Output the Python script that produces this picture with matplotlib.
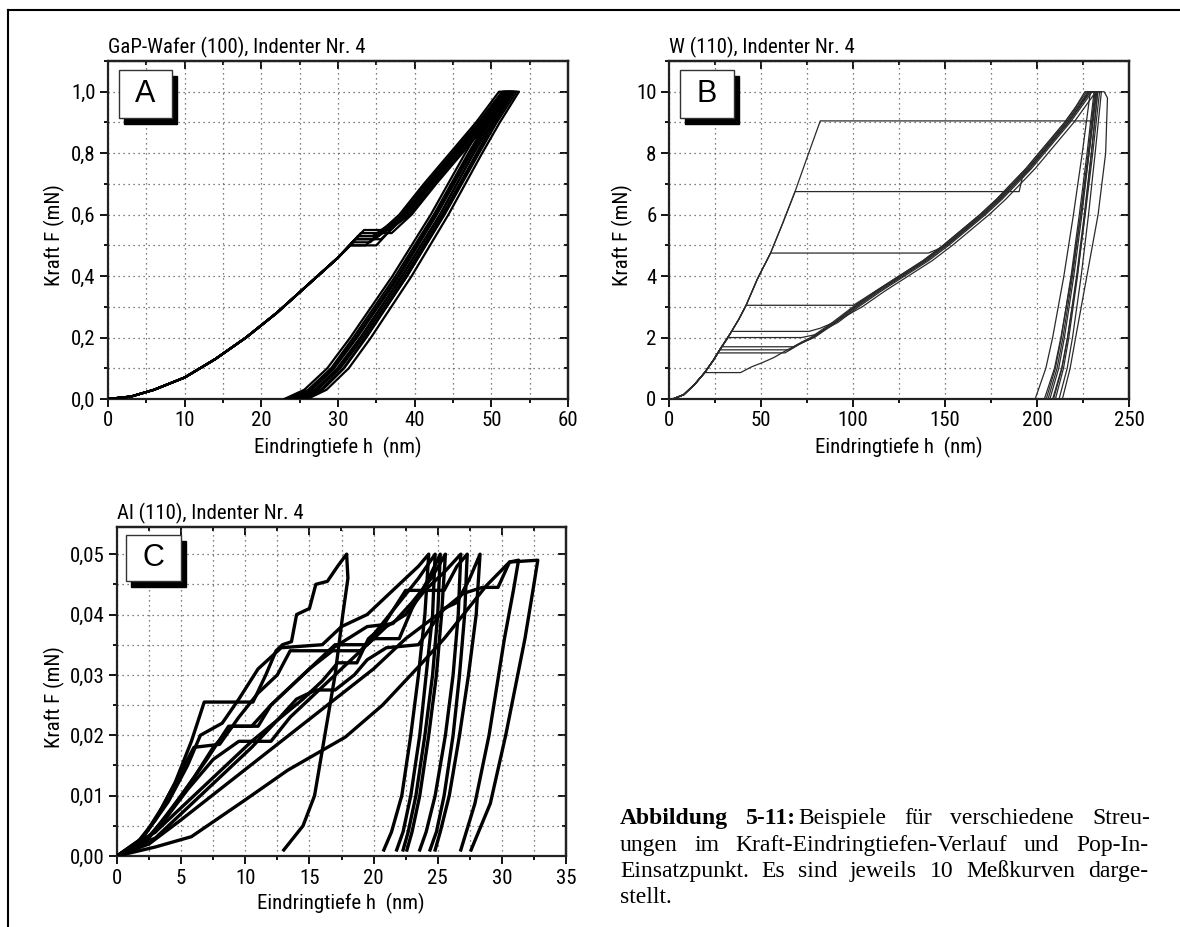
import matplotlib
matplotlib.use("Agg")
import matplotlib.pyplot as plt
from matplotlib.ticker import MultipleLocator, FuncFormatter
from matplotlib.patches import Rectangle
from matplotlib.lines import Line2D

# ---- panel A: GaP-Wafer (100) ----
A_PRE_H = [0, 3, 6, 10, 14, 18, 22, 26, 30]
A_PRE_F = [0, 0.008, 0.03, 0.07, 0.13, 0.2, 0.28, 0.37, 0.46]
A_POP_F = [0.50, 0.51, 0.52, 0.53, 0.54, 0.55, 0.52, 0.53, 0.50, 0.54]
A_POP_START = [31.6, 32.0, 32.3, 32.7, 33.0, 33.4, 32.3, 32.6, 31.6, 33.0]
A_POP_END = [33.6, 34.2, 34.8, 35.3, 35.9, 36.6, 35.6, 34.5, 35.0, 37.0]
A_UPPER_F = [0.6, 0.7, 0.8, 0.9, 1.0, 1.0]
A_UPPER_H = [
    [38.0, 41.2, 44.6, 48.0, 51.0, 51.6],
    [38.3, 41.5, 44.9, 48.3, 51.4, 52.0],
    [38.6, 41.8, 45.2, 48.6, 51.7, 52.4],
    [38.8, 42.0, 45.4, 48.8, 52.0, 52.7],
    [39.1, 42.3, 45.7, 49.1, 52.3, 53.0],
    [39.4, 42.6, 46.0, 49.4, 52.6, 53.3],
    [39.0, 42.2, 45.6, 49.0, 52.2, 52.9],
    [38.5, 41.7, 45.1, 48.5, 51.6, 52.2],
    [38.7, 41.9, 45.3, 48.7, 51.8, 52.6],
    [39.6, 42.8, 46.2, 49.6, 52.8, 53.6],
]
A_UNLOAD_F = [1.0, 0.9, 0.8, 0.6, 0.4, 0.2, 0.1, 0.03, 0.0]
A_UNLOAD_H = [
    [51.6, 49.0, 46.6, 42.1, 37.1, 31.6, 28.6, 25.6, 23.0],
    [52.0, 49.4, 47.0, 42.5, 37.5, 32.0, 29.1, 26.1, 23.5],
    [52.4, 49.8, 47.4, 42.9, 38.0, 32.5, 29.5, 26.6, 24.0],
    [52.7, 50.1, 47.7, 43.3, 38.3, 32.9, 29.9, 27.0, 24.4],
    [53.0, 50.4, 48.1, 43.6, 38.7, 33.3, 30.3, 27.3, 24.8],
    [53.3, 50.7, 48.4, 43.9, 39.0, 33.6, 30.7, 27.7, 25.2],
    [52.9, 50.4, 48.1, 43.8, 39.0, 33.7, 30.8, 28.0, 25.5],
    [52.2, 49.6, 47.2, 42.7, 37.8, 32.3, 29.3, 26.4, 23.8],
    [52.6, 50.1, 47.7, 43.3, 38.4, 33.0, 30.1, 27.1, 24.6],
    [53.6, 51.1, 48.8, 44.4, 39.6, 34.3, 31.4, 28.5, 26.0],
]

# ---- panel B: W (110) ----
B_ELASTIC_H = [2, 8, 14, 19.4, 24, 28, 33, 38, 41.9, 48, 55.2, 62, 68.5, 75, 82.2]
B_ELASTIC_F = [0, 0.14, 0.48, 0.86, 1.25, 1.64, 2.1, 2.6, 3.05, 3.9, 4.75, 5.75, 6.75, 7.85, 9.05]
B_POP_F = [0.86, 1.5, 1.6, 1.7, 2.0, 2.2, 3.05, 4.75, 6.75, 9.05]
B_POP_START = [19.4, 26.6, 27.6, 28.6, 32.2, 34.0, 41.9, 55.2, 68.5, 82.2]
B_POP_END = [38.9, 63, 65.5, 68, 72, 76, 100.2, 141, 190.3, 230.2]
B_PLASTIC_H = [
    [45, 51, 57, 63.4, 70, 78, 90, 105, 117, 130, 143, 154, 164, 174, 183, 191, 199, 206, 213, 220, 226, 232, 236.5],
    [70, 78, 90, 101, 113, 126, 139, 150, 160, 170, 179, 187, 195, 202, 209, 216, 222, 228, 233],
    [71, 79, 91, 102, 114, 127, 140, 151, 161, 171, 180, 188, 196, 203, 210, 217, 223, 229, 232],
    [72, 77, 89, 100, 112, 125, 138, 149, 159, 169, 178, 186, 194, 201, 208, 215, 221, 227, 231],
    [80, 92, 103, 115, 128, 141, 152, 162, 172, 181, 189, 197, 204, 211, 218, 224, 230, 234],
    [82, 90, 101, 113, 126, 139, 150, 160, 170, 179, 187, 195, 202, 209, 216, 222, 228, 232.5],
    [112, 125, 138, 149, 159, 169, 178, 186, 194, 201, 208, 215, 221, 226, 229],
    [151, 161, 171, 180, 188, 196, 203, 210, 217, 223, 229, 233],
    [192, 196, 203, 210, 217, 223, 228, 231.5],
    [232, 235],
]
B_PLASTIC_F = [
    [1.05, 1.19, 1.35, 1.57, 1.78, 2.0, 2.5, 3.0, 3.5, 4.0, 4.5, 5.0, 5.5, 6.0, 6.5, 7.0, 7.5, 8.0, 8.5, 9.0, 9.5, 10, 10],
    [1.75, 2.0, 2.5, 3.0, 3.5, 4.0, 4.5, 5.0, 5.5, 6.0, 6.5, 7.0, 7.5, 8.0, 8.5, 9.0, 9.5, 10, 10],
    [1.8, 2.0, 2.5, 3.0, 3.5, 4.0, 4.5, 5.0, 5.5, 6.0, 6.5, 7.0, 7.5, 8.0, 8.5, 9.0, 9.5, 10, 10],
    [1.85, 2.0, 2.5, 3.0, 3.5, 4.0, 4.5, 5.0, 5.5, 6.0, 6.5, 7.0, 7.5, 8.0, 8.5, 9.0, 9.5, 10, 10],
    [2.1, 2.5, 3.0, 3.5, 4.0, 4.5, 5.0, 5.5, 6.0, 6.5, 7.0, 7.5, 8.0, 8.5, 9.0, 9.5, 10, 10],
    [2.3, 2.5, 3.0, 3.5, 4.0, 4.5, 5.0, 5.5, 6.0, 6.5, 7.0, 7.5, 8.0, 8.5, 9.0, 9.5, 10, 10],
    [3.5, 4.0, 4.5, 5.0, 5.5, 6.0, 6.5, 7.0, 7.5, 8.0, 8.5, 9.0, 9.5, 10, 10],
    [5.0, 5.5, 6.0, 6.5, 7.0, 7.5, 8.0, 8.5, 9.0, 9.5, 10, 10],
    [7.2, 7.5, 8.0, 8.5, 9.0, 9.5, 10, 10],
    [10, 10],
]
B_UNLOAD_F = [
    [9.8, 8, 6, 4, 2, 1, 0],
    [10, 8, 6, 4, 2, 1, 0], [10, 8, 6, 4, 2, 1, 0], [10, 8, 6, 4, 2, 1, 0],
    [10, 8, 6, 4, 2, 1, 0], [10, 8, 6, 4, 2, 1, 0], [10, 8, 6, 4, 2, 1, 0],
    [10, 8, 6, 4, 2, 1, 0], [10, 8, 6, 4, 2, 1, 0], [10, 8, 6, 4, 2, 1, 0],
]
B_UNLOAD_H = [
    [238.3, 237.3, 233.2, 227.1, 221.0, 218.0, 213.8],
    [233.0, 229.6, 226.0, 222.0, 217.3, 214.4, 210.0],
    [232.0, 228.3, 224.4, 220.0, 214.9, 211.8, 207.0],
    [231.0, 227.2, 223.0, 218.5, 213.2, 210.0, 205.0],
    [234.0, 230.3, 226.2, 221.8, 216.6, 213.4, 208.5],
    [232.5, 228.3, 223.8, 218.8, 213.0, 209.5, 204.0],
    [229.0, 224.6, 219.8, 214.6, 208.5, 204.8, 199.0],
    [233.0, 229.5, 225.7, 221.5, 216.6, 213.6, 209.0],
    [231.5, 227.8, 223.7, 219.3, 214.1, 210.9, 206.0],
    [235.0, 231.6, 228.0, 224.0, 219.3, 216.4, 212.0],
]

# ---- panel C: Al (110) ----
C_LOAD_H = [
    [0, 1.5, 3, 4.5, 5.8, 6.8, 10.6, 11.6, 12.4, 12.9, 13.6, 14.0, 15.0, 15.5, 16.4, 17.2, 17.9],
    [0, 2, 4, 5.5, 6.5, 8.2, 9.5, 11, 12.8, 16, 17.5, 19.5, 21.5, 23.5, 24.3],
    [0, 2.5, 5, 7, 8.7, 11, 12, 13.5, 15, 16.8, 19, 20.5, 22, 23.5, 24.8],
    [0, 3, 5.5, 7.5, 9.5, 12, 13.5, 15, 16.5, 18.5, 20, 22, 23, 24.3, 25.2],
    [0, 3, 6, 8.5, 10.5, 12.5, 14.5, 16, 17.2, 18.7, 19.6, 20.7, 22.5, 24.0, 25.5, 26.8],
    [0, 2, 4, 6, 7.5, 9.0, 10.5, 12, 14, 15.5, 17, 19.5, 21, 22.5, 24, 25.5, 26.5, 27.3],
    [0, 2, 3.5, 5, 6, 8, 9.5, 11, 12.5, 13.5, 16.5, 18, 19.5, 21.5, 23, 24.5, 25.6],
    [0, 3, 6, 8.5, 10.5, 12.5, 14, 15.5, 17, 18.5, 19.5, 21, 23.5, 24.5, 25.5, 26.5, 27.5, 28.3],
    [0, 2.5, 5, 8, 11, 14, 17, 20, 22.5, 25, 27, 28.5, 29.7, 30.6, 31.3],
    [0, 3, 5.8, 10, 13.3, 17.8, 20.7, 23.7, 25.5, 27, 28.8, 30.6, 32.8],
]
C_LOAD_F = [
    [0, 0.002, 0.006, 0.012, 0.019, 0.0255, 0.0255, 0.030, 0.034, 0.035, 0.0355, 0.040, 0.041, 0.045, 0.0455, 0.048, 0.050],
    [0, 0.003, 0.009, 0.015, 0.020, 0.022, 0.026, 0.031, 0.0345, 0.035, 0.038, 0.040, 0.044, 0.048, 0.050],
    [0, 0.003, 0.010, 0.016, 0.0215, 0.0215, 0.025, 0.028, 0.031, 0.034, 0.034, 0.038, 0.042, 0.046, 0.050],
    [0, 0.004, 0.011, 0.016, 0.019, 0.019, 0.023, 0.026, 0.029, 0.033, 0.036, 0.036, 0.041, 0.046, 0.050],
    [0, 0.003, 0.009, 0.014, 0.018, 0.0225, 0.026, 0.029, 0.032, 0.032, 0.036, 0.038, 0.044, 0.044, 0.047, 0.050],
    [0, 0.002, 0.007, 0.013, 0.018, 0.0215, 0.0215, 0.025, 0.029, 0.032, 0.035, 0.035, 0.038, 0.040, 0.044, 0.044, 0.048, 0.050],
    [0, 0.003, 0.008, 0.014, 0.018, 0.0185, 0.023, 0.027, 0.030, 0.034, 0.034, 0.036, 0.038, 0.0385, 0.042, 0.046, 0.050],
    [0, 0.004, 0.010, 0.015, 0.019, 0.0225, 0.026, 0.0275, 0.0275, 0.030, 0.0325, 0.0345, 0.035, 0.038, 0.041, 0.042, 0.046, 0.050],
    [0, 0.002, 0.006, 0.011, 0.016, 0.021, 0.026, 0.031, 0.036, 0.040, 0.0435, 0.0445, 0.0445, 0.0487, 0.049],
    [0, 0.0015, 0.0032, 0.0093, 0.0142, 0.0197, 0.025, 0.0318, 0.036, 0.040, 0.0448, 0.0487, 0.049],
]
C_UNLOAD_H = [
    [17.9, 18.0, 17.6, 17.0, 16.6, 16.2, 15.4, 14.5, 13.0],
    [24.3, 24.0, 23.5, 22.9, 22.2, 21.4, 20.8],
    [24.8, 24.6, 24.1, 23.6, 22.9, 22.3, 21.8],
    [25.2, 25.0, 24.6, 24.0, 23.3, 22.7, 22.3],
    [26.8, 26.6, 26.2, 25.6, 24.8, 24.1, 23.6],
    [27.3, 27.1, 26.7, 26.2, 25.5, 24.9, 24.4],
    [25.6, 25.3, 24.9, 24.3, 23.6, 23.0, 22.6],
    [28.3, 28.0, 27.4, 26.7, 25.9, 25.2, 24.8],
    [31.3, 30.9, 30.2, 29.0, 27.9, 26.8],
    [32.8, 32.5, 31.8, 30.3, 29.1, 27.6],
]
C_UNLOAD_F = [
    [0.050, 0.046, 0.040, 0.030, 0.025, 0.020, 0.010, 0.005, 0.001],
    [0.05, 0.04, 0.03, 0.02, 0.01, 0.004, 0.001],
    [0.05, 0.04, 0.03, 0.02, 0.01, 0.004, 0.001],
    [0.05, 0.04, 0.03, 0.02, 0.01, 0.004, 0.001],
    [0.05, 0.04, 0.03, 0.02, 0.01, 0.004, 0.001],
    [0.05, 0.04, 0.03, 0.02, 0.01, 0.004, 0.001],
    [0.05, 0.04, 0.03, 0.02, 0.01, 0.004, 0.001],
    [0.05, 0.04, 0.03, 0.02, 0.01, 0.004, 0.001],
    [0.049, 0.044, 0.036, 0.020, 0.0087, 0.001],
    [0.049, 0.045, 0.036, 0.020, 0.0087, 0.001],
]

CAPTION_LINES = [
    [("Abbildung", "bold", True), ("5-11:", "bold", True), ("Beispiele", "normal", False),
     ("für", "normal", True), ("verschiedene", "normal", True), ("Streu-", "normal", True)],
    [("ungen", "normal", True), ("im", "normal", True), ("Kraft-Eindringtiefen-Verlauf", "normal", True),
     ("und", "normal", True), ("Pop-In-", "normal", True)],
    [("Einsatzpunkt.", "normal", True), ("Es", "normal", True), ("sind", "normal", True),
     ("jeweils", "normal", True), ("10", "normal", True), ("Meßkurven", "normal", True),
     ("darge-", "normal", True)],
    [("stellt.", "normal", True)],
]

W, H = 1180, 927
# condensed Arial look of the Origin plots
SANS = ['Roboto Condensed', 'Liberation Sans', 'DejaVu Sans']
SERIF = ['Liberation Serif', 'DejaVu Serif']
FS_TICK = 15
FS_TEXT = 15
plt.rcParams['font.family'] = SANS

fig = plt.figure(figsize=(W / 100, H / 100), dpi=100)
fig.patch.set_facecolor('white')


def px_axes(left, top, right, bottom):
    return fig.add_axes([left / W, 1 - bottom / H, (right - left) / W, (bottom - top) / H])


def comma_fmt(decimals):
    return FuncFormatter(lambda v, p: f'{v:.{decimals}f}'.replace('.', ','))


def style_axes(ax, xmax, xmaj, xmin, ymax, ymaj, ymin, ydec):
    ax.set_xlim(0, xmax)
    ax.set_ylim(0, ymax)
    ax.xaxis.set_major_locator(MultipleLocator(xmaj))
    ax.xaxis.set_minor_locator(MultipleLocator(xmin))
    ax.yaxis.set_major_locator(MultipleLocator(ymaj))
    ax.yaxis.set_minor_locator(MultipleLocator(ymin))
    ax.yaxis.set_major_formatter(comma_fmt(ydec))
    ax.xaxis.set_major_formatter(FuncFormatter(lambda v, p: f'{v:.0f}'))
    ax.grid(True, which='both', color='#555555', lw=0.9, ls=(0, (1, 3)))
    ax.set_axisbelow(True)
    ax.tick_params(which='both', direction='out', top=False, right=False,
                   labelsize=FS_TICK, pad=3, width=1.3)
    ax.tick_params(which='major', length=6)
    ax.tick_params(which='minor', length=3)
    for s in ax.spines.values():
        s.set_linewidth(1.6)
        s.set_color('#222222')
    # inward ticks on top and right, like the Origin frame
    sx = ax.secondary_xaxis('top')
    sx.xaxis.set_major_locator(MultipleLocator(xmaj))
    sx.xaxis.set_minor_locator(MultipleLocator(xmin))
    sx.tick_params(which='both', direction='in', labeltop=False, width=1.3)
    sx.tick_params(which='major', length=6)
    sx.tick_params(which='minor', length=3)
    sx.spines['top'].set_linewidth(1.6)
    sy = ax.secondary_yaxis('right')
    sy.yaxis.set_major_locator(MultipleLocator(ymaj))
    sy.yaxis.set_minor_locator(MultipleLocator(ymin))
    sy.tick_params(which='both', direction='in', labelright=False, width=1.3)
    sy.tick_params(which='major', length=6)
    sy.tick_params(which='minor', length=3)
    sy.spines['right'].set_linewidth(1.6)


def panel_box(letter, left, top, right, bottom):
    fig.add_artist(Rectangle(((left + 5) / W, 1 - (bottom + 6) / H), (right - left) / W, (bottom - top) / H,
                             transform=fig.transFigure, facecolor='black', edgecolor='black', zorder=10))
    fig.add_artist(Rectangle((left / W, 1 - bottom / H), (right - left) / W, (bottom - top) / H,
                             transform=fig.transFigure, facecolor='white', edgecolor='#333333',
                             lw=1.0, zorder=11))
    fig.text((left + right) / 2 / W, 1 - (top + bottom) / 2 / H, letter, ha='center', va='center',
             fontsize=22, family=['Liberation Sans', 'DejaVu Sans'], zorder=12)


def labels(title, tx, ty, xl_x, xl_y, yl_x, yl_y):
    fig.text(tx / W, 1 - ty / H, title, ha='left', va='center', fontsize=FS_TEXT)
    fig.text(xl_x / W, 1 - xl_y / H, 'Eindringtiefe h  (nm)', ha='center', va='center', fontsize=FS_TEXT)
    fig.text(yl_x / W, 1 - yl_y / H, 'Kraft F (mN)', ha='center', va='center', rotation=90,
             fontsize=FS_TEXT)


# ---- A ----
axA = px_axes(108, 61, 568, 399)
style_axes(axA, 60, 10, 5, 1.1, 0.2, 0.1, 1)
for i in range(len(A_POP_F)):
    h = A_PRE_H + [A_POP_START[i], A_POP_END[i]] + A_UPPER_H[i] + A_UNLOAD_H[i]
    f = A_PRE_F + [A_POP_F[i], A_POP_F[i]] + A_UPPER_F + A_UNLOAD_F
    axA.plot(h, f, color='black', lw=1.6, solid_joinstyle='round', zorder=3)
labels('GaP-Wafer (100), Indenter Nr. 4', 108, 47, 338, 447, 54, 235)
panel_box('A', 119, 70, 172, 118)

# ---- B ----
axB = px_axes(669, 61, 1129, 399)
style_axes(axB, 250, 50, 25, 11, 2, 1, 0)
for i in range(len(B_POP_F)):
    fp = B_POP_F[i]
    h = [x for x, y in zip(B_ELASTIC_H, B_ELASTIC_F) if y < fp]
    f = [y for y in B_ELASTIC_F if y < fp]
    h += [B_POP_START[i], B_POP_END[i]] + B_PLASTIC_H[i] + B_UNLOAD_H[i]
    f += [fp, fp] + B_PLASTIC_F[i] + B_UNLOAD_F[i]
    axB.plot(h, f, color='#2a2a2a', lw=0.9, zorder=3)
labels('W (110), Indenter Nr. 4', 669, 47, 899, 447, 622, 235)
panel_box('B', 680, 70, 734, 118)

# ---- C ----
axC = px_axes(117, 527, 566, 856)
style_axes(axC, 35, 5, 2.5, 0.0545, 0.01, 0.005, 2)
for i in range(len(C_LOAD_H)):
    h = C_LOAD_H[i] + C_UNLOAD_H[i]
    f = C_LOAD_F[i] + C_UNLOAD_F[i]
    axC.plot(h, f, color='black', lw=2.4, solid_joinstyle='round', zorder=3)
labels('Al (110), Indenter Nr. 4', 117, 513, 341, 903, 54, 697)
panel_box('C', 126, 535, 181, 581)

# ---- frame of the page ----
fig.add_artist(Line2D([8 / W, 1.0], [1 - 10 / H, 1 - 10 / H], transform=fig.transFigure,
                      color='black', lw=1.5))
fig.add_artist(Line2D([8 / W, 8 / W], [1 - 10 / H, 0.0], transform=fig.transFigure,
                      color='black', lw=1.5))

# ---- justified caption ----
renderer = fig.canvas.get_renderer()
CAP_X0, CAP_X1 = 620, 1148
CAP_BASE = [824, 851, 877, 903]
for li, words in enumerate(CAPTION_LINES):
    texts = []
    for word, weight, gap in words:
        t = fig.text(0, 1 - CAP_BASE[li] / H, word, fontsize=17, family=SERIF,
                     weight=weight, ha='left', va='baseline')
        texts.append((t, gap))
    widths = [t.get_window_extent(renderer).width for t, g in texts]
    n_gaps = sum(1 for k, (t, g) in enumerate(texts) if k > 0 and g)
    last = li == len(CAPTION_LINES) - 1
    space = 5.0 if (last or n_gaps == 0) else (CAP_X1 - CAP_X0 - sum(widths)) / n_gaps
    x = CAP_X0
    for k, (t, g) in enumerate(texts):
        if k > 0:
            x += space if g else 2
        t.set_x(x / W)
        x += widths[k]

fig.savefig('out.png', dpi=100)
